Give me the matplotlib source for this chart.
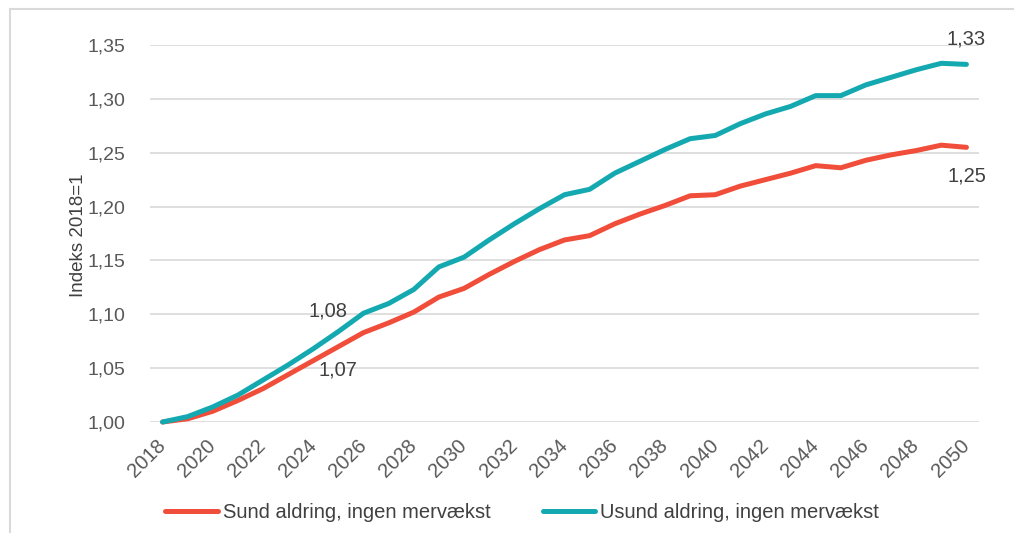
import matplotlib.pyplot as plt
from matplotlib.patches import Rectangle

plt.rcParams['font.family'] = ['Liberation Sans', 'DejaVu Sans']

# data
years = list(range(2018, 2051))
sund = [1.000, 1.003, 1.010, 1.020, 1.031, 1.044, 1.057, 1.070, 1.083, 1.092,
        1.102, 1.116, 1.124, 1.137, 1.149, 1.160, 1.169, 1.173, 1.184, 1.193,
        1.201, 1.210, 1.211, 1.219, 1.225, 1.231, 1.238, 1.236, 1.243, 1.248,
        1.252, 1.257, 1.255]
usund = [1.000, 1.005, 1.014, 1.025, 1.039, 1.053, 1.068, 1.084, 1.101, 1.110,
         1.123, 1.144, 1.153, 1.169, 1.184, 1.198, 1.211, 1.216, 1.231, 1.242,
         1.253, 1.263, 1.266, 1.277, 1.286, 1.293, 1.303, 1.303, 1.313, 1.320,
         1.327, 1.333, 1.332]
yticks = [1.00, 1.05, 1.10, 1.15, 1.20, 1.25, 1.30, 1.35]
xticks = list(range(2018, 2051, 2))
names = ['Sund aldring, ingen mervækst', 'Usund aldring, ingen mervækst']
# labelled points: (series, year, text)
labels = [('usund', 2025, '1,08'), ('sund', 2025, '1,07'),
          ('usund', 2050, '1,33'), ('sund', 2050, '1,25')]

red = '#F04E3A'
teal = '#14A9B1'
txt = '#595959'

fig = plt.figure(figsize=(10.14, 5.33), dpi=100)
# light frame around the chart area (cropped at right/bottom like the source)
fig.patches.append(Rectangle((10, -20), 1100, 544, transform=None,
                             fill=False, edgecolor='#D9D9D9', linewidth=1.5))

ax = fig.add_axes([150/1014, 111/533, 829/1014, 377/533])
ax.plot(years, sund, color=red, lw=3.6, solid_capstyle='round', clip_on=False, label=names[0])
ax.plot(years, usund, color=teal, lw=3.6, solid_capstyle='round', clip_on=False, label=names[1])

ax.set_xlim(2017.5, 2050.5)
ax.set_ylim(1.0, 1.35)
ax.set_yticks(yticks)
ax.set_yticklabels([f'{v:.2f}'.replace('.', ',') for v in yticks])
ax.set_xticks(xticks)
ax.set_xticklabels([str(y) for y in xticks], rotation=45, ha='right',
                   va='center', rotation_mode='anchor')
ax.tick_params(axis='y', length=0, pad=18, labelsize=14, labelcolor=txt)
ax.tick_params(axis='x', length=0, pad=15, labelsize=14.5, labelcolor=txt)
ax.grid(axis='y', color='#D9D9D9', lw=1.2)
ax.set_axisbelow(True)
for s in ax.spines.values():
    s.set_visible(False)

ax.set_ylabel('Indeks 2018=1', fontsize=13.5, color='#404040')
ax.yaxis.set_label_coords(-0.076, 0.496)

series = {'sund': sund, 'usund': usund}
offsets = {'1,08': (-10, 21), '1,07': (0, -23), '1,33': (0, 25), '1,25': (0, -29)}
for key, yr, t in labels:
    v = series[key][years.index(yr)]
    ax.annotate(t, xy=(yr, v), xytext=offsets[t], textcoords='offset pixels',
                ha='center', va='center', fontsize=14.5, color='#404040')

fig.legend(loc='center', bbox_to_anchor=(0.515, 0.039), ncol=2, frameon=False,
           fontsize=14.5, labelcolor='#404040', handlelength=2.6,
           handletextpad=0.25, columnspacing=2.6)

fig.savefig('out.png', dpi=100)
